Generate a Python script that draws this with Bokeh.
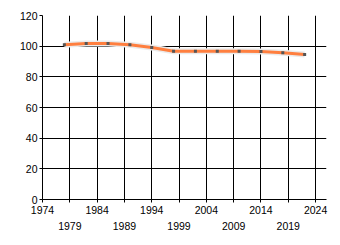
from bokeh.plotting import figure
from bokeh.models import LinearAxis, FixedTicker, Range1d
from bokeh.embed import file_html
from bokeh.resources import INLINE

years = [1978, 1982, 1986, 1990, 1994, 1998, 2002, 2006, 2010, 2014, 2018, 2022]
values = [100.9, 101.8, 101.8, 100.9, 99.1, 96.7, 96.7, 96.7, 96.7, 96.5, 95.7, 94.6]
x_ticks_row1 = [1974, 1984, 1994, 2004, 2014, 2024]
x_ticks_row2 = [1979, 1989, 1999, 2009, 2019]
y_ticks = [0, 20, 40, 60, 80, 100, 120]

FONT = "Liberation Sans"
FS = "10.5px"

p = figure(width=340, height=245, output_backend="svg", toolbar_location=None,
           x_range=Range1d(1974, 2026), y_range=Range1d(0, 120),
           min_border_left=42, min_border_right=14, min_border_top=15, min_border_bottom=46,
           x_axis_location=None, y_axis_location=None)
p.outline_line_color = None
p.background_fill_color = "white"
p.border_fill_color = "white"

all_x = sorted(x_ticks_row1 + x_ticks_row2)

ax1 = LinearAxis(ticker=FixedTicker(ticks=all_x),
                 major_label_overrides={t: "" for t in x_ticks_row2})
ax1.major_tick_out = 3
ax1.major_tick_in = 0
ax1.minor_tick_out = 0
ax1.minor_tick_in = 0
ax1.major_label_standoff = 3
ax1.axis_line_color = "black"
ax1.major_tick_line_color = "black"
ax1.major_label_text_font = FONT
ax1.major_label_text_font_size = FS
ax1.major_label_text_color = "black"
p.add_layout(ax1, "below")

ax2 = LinearAxis(ticker=FixedTicker(ticks=x_ticks_row2))
ax2.major_tick_out = 0
ax2.major_tick_in = 0
ax2.minor_tick_out = 0
ax2.minor_tick_in = 0
ax2.axis_line_color = None
ax2.major_label_standoff = 5
ax2.major_label_text_font = FONT
ax2.major_label_text_font_size = FS
ax2.major_label_text_color = "black"
p.add_layout(ax2, "below")

ay = LinearAxis(ticker=FixedTicker(ticks=y_ticks))
ay.major_tick_out = 3
ay.major_tick_in = 0
ay.minor_tick_out = 0
ay.minor_tick_in = 0
ay.major_label_standoff = 2
ay.axis_line_color = "black"
ay.major_tick_line_color = "black"
ay.major_label_text_font = FONT
ay.major_label_text_font_size = FS
ay.major_label_text_color = "black"
p.add_layout(ay, "left")

p.xgrid.ticker = FixedTicker(ticks=all_x)
p.ygrid.ticker = FixedTicker(ticks=y_ticks)
p.xgrid.grid_line_color = "black"
p.ygrid.grid_line_color = "black"
p.xgrid.grid_line_width = 1
p.ygrid.grid_line_width = 1
p.xgrid.axis = ax1
p.ygrid.axis = ay

p.line(years, values, line_color="#ebebeb", line_width=6)
p.line(years, values, line_color="#ff7f3f", line_width=3)
p.scatter(years, values, marker="square", size=3, fill_color="#555555", line_color=None)

open("out.html", "w").write(file_html(p, INLINE))
